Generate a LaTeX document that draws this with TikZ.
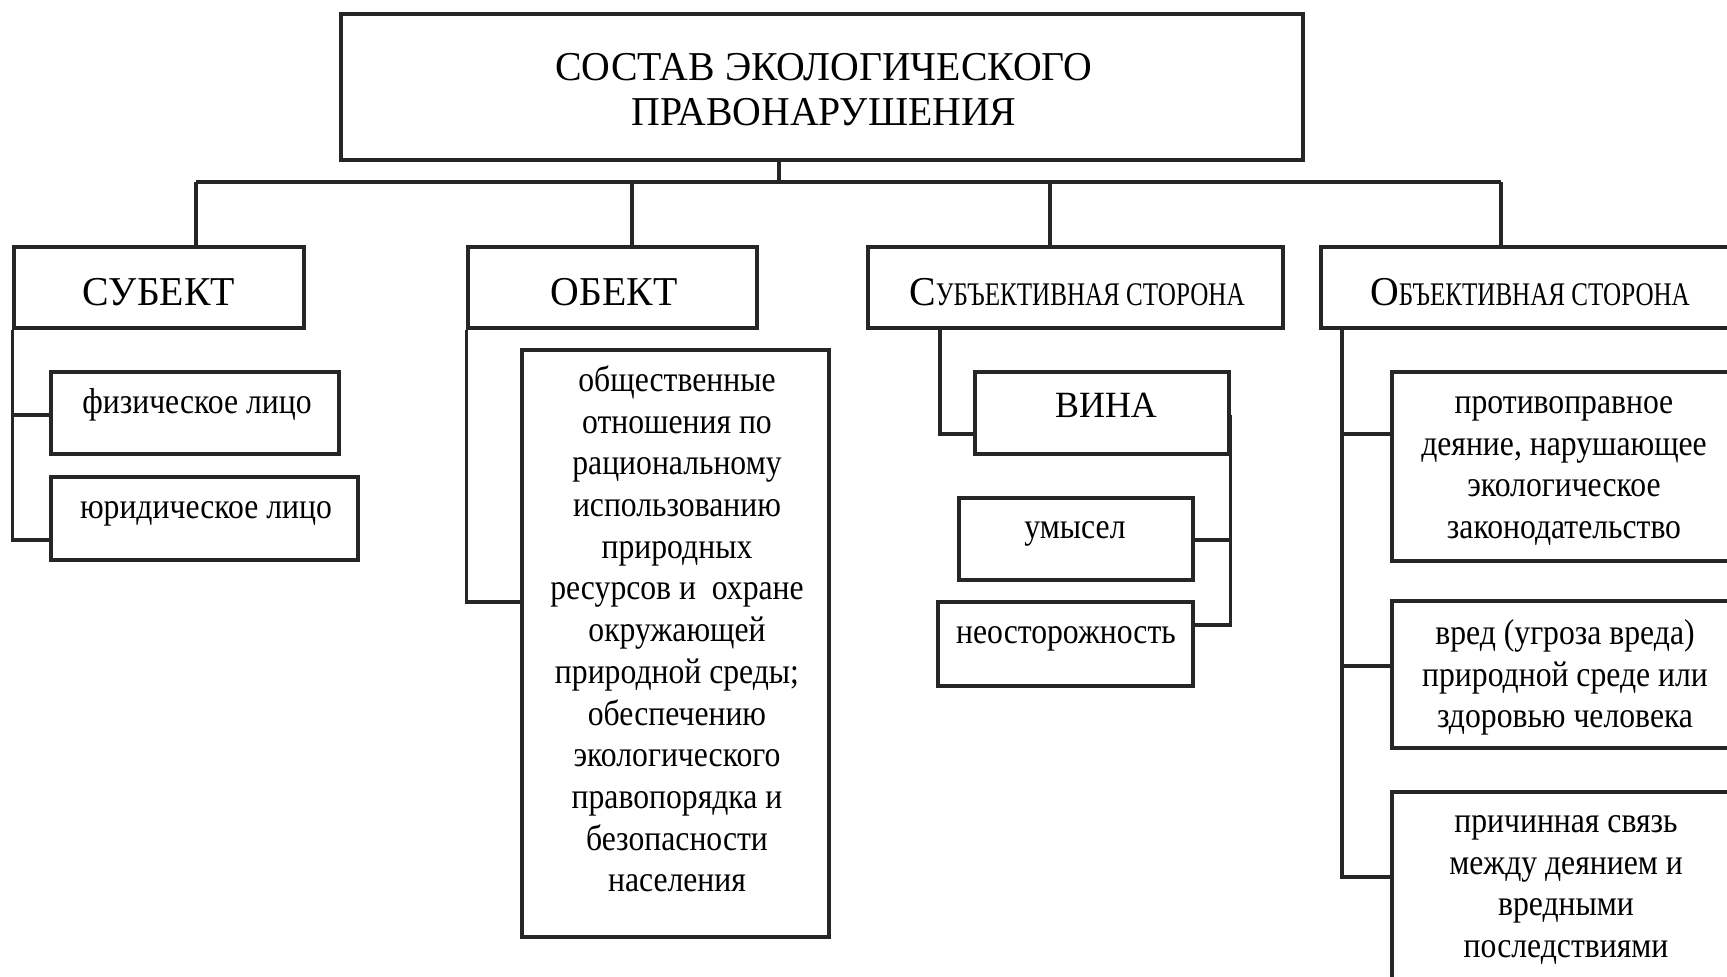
\documentclass[tikz,border=0pt]{standalone}
\usepackage{fontspec}
\setmainfont{Liberation Serif}
\newfontfamily\capsf[FakeStretch=0.97]{Liberation Serif}
\newfontfamily\bodyf[FakeStretch=0.88]{Liberation Serif}
\newfontfamily\scf[FakeStretch=0.76]{Liberation Serif}
\begin{document}
\begin{tikzpicture}[x=1pt,y=-1pt,
  boxst/.style={draw=black!85, line width=3.1pt, rectangle, inner sep=0pt},
  conn/.style={draw=black!85, line width=3.1pt},
  capst/.style={inner sep=0pt, anchor=base, font=\capsf\fontsize{41}{45}\selectfont, text=black},
  bodyst/.style={inner sep=0pt, anchor=base, font=\bodyf\fontsize{36}{41.7}\selectfont, text=black},
  multist/.style={inner sep=0pt, anchor=north, align=center, font=\bodyf\fontsize{36}{41.7}\selectfont, text=black},
  titlest/.style={inner sep=0pt, anchor=north, align=center, font=\capsf\fontsize{41}{45}\selectfont, text=black},
]
\useasboundingbox (0,0) rectangle (1727,977);
\clip (0,0) rectangle (1727,977);

% boxes
\node[boxst, minimum width=962pt, minimum height=146pt] (top) at (822,87) {};
\node[boxst, minimum width=290pt, minimum height=81pt] (subj) at (159,287.5) {};
\node[boxst, minimum width=289pt, minimum height=81pt] (obj) at (612.5,287.5) {};
\node[boxst, minimum width=415pt, minimum height=81pt] (subjside) at (1075.5,287.5) {};
\node[boxst, minimum width=439pt, minimum height=81pt] (objside) at (1540.5,287.5) {};
\node[boxst, minimum width=288pt, minimum height=82pt] (phys) at (195,413) {};
\node[boxst, minimum width=307pt, minimum height=83pt] (jur) at (204.5,518.5) {};
\node[boxst, minimum width=307pt, minimum height=587pt] (big) at (675.5,643.5) {};
\node[boxst, minimum width=254pt, minimum height=82pt] (vina) at (1102,413) {};
\node[boxst, minimum width=234pt, minimum height=82pt] (umysel) at (1076,539) {};
\node[boxst, minimum width=255pt, minimum height=84pt] (neost) at (1065.5,644) {};
\node[boxst, minimum width=348pt, minimum height=189pt] (r1) at (1566,466.5) {};
\node[boxst, minimum width=348pt, minimum height=147pt] (r2) at (1566,674.5) {};
\node[boxst, minimum width=348pt, minimum height=218pt] (r3) at (1566,901) {};

% texts
\node[titlest] (ttitle) at (824,49) {\strut СОСТАВ ЭКОЛОГИЧЕСКОГО\\ПРАВОНАРУШЕНИЯ};
\node[capst] (tsubj) at (159,305.5) {СУБЕКТ};
\node[capst] (tobj) at (614,305.5) {ОБЕКТ};
\node[capst] (tsubjside) at (1077,305.5) {С{\scf\fontsize{33}{40}\selectfont УБЪЕКТИВНАЯ СТОРОНА}};
\node[capst] (tobjside) at (1530,305.5) {О{\scf\fontsize{33}{40}\selectfont БЪЕКТИВНАЯ СТОРОНА}};
\node[bodyst] (tphys) at (197,413) {физическое лицо};
\node[bodyst] (tjur) at (206,518) {юридическое лицо};
\node[capst, font=\capsf\fontsize{37}{42}\selectfont] (tvina) at (1106,417) {ВИНА};
\node[bodyst] (tumysel) at (1075,538) {умысел};
\node[bodyst] (tneost) at (1066,643) {неосторожность};
\node[multist] (tbig) at (677,362) {\strut общественные\\отношения по\\рациональному\\использованию\\природных\\ресурсов и~~охране\\окружающей\\природной среды;\\обеспечению\\экологического\\правопорядка и\\безопасности\\населения};
\node[multist] (tr1) at (1564,384) {\strut противоправное\\деяние, нарушающее\\экологическое\\законодательство};
\node[multist] (tr2) at (1565,615) {\strut вред (угроза вреда)\\природной среде или\\здоровью человека};
\node[multist] (tr3) at (1566,803) {\strut причинная связь\\между деянием и\\вредными\\последствиями};

% helper coordinates
\coordinate (j0) at (779,182);
\coordinate (b1) at (196,182);
\coordinate (b2) at (632,182);
\coordinate (b3) at (1050,182);
\coordinate (b4) at (1501,182);
\coordinate (sA) at (0,415);
\coordinate (sB) at (0,540);
\coordinate (oA) at (0,602);
\coordinate (xS) at (940,0);
\coordinate (vA) at (0,434);
\coordinate (vTop) at (0,415);
\coordinate (vU) at (0,540);
\coordinate (vN) at (0,625);
\coordinate (xR) at (1342,0);
\coordinate (rA) at (0,434);
\coordinate (rB) at (0,666);
\coordinate (rC) at (0,877);

% connectors
\draw[conn] (top.south -| j0) -- (j0);
\draw[conn] (b1) -- (b4);
\draw[conn] (b1) -- (subj.north -| b1);
\draw[conn] (b2) -- (obj.north -| b2);
\draw[conn] (b3) -- (subjside.north -| b3);
\draw[conn] (b4) -- (objside.north -| b4);
\draw[conn] (subj.south west) |- (phys.west |- sA);
\draw[conn] (subj.south west) |- (jur.west |- sB);
\draw[conn] (obj.south west) |- (big.west |- oA);
\draw[conn] (subjside.south -| xS) |- (vina.west |- vA);
\draw[conn] (vina.east |- vTop) |- (neost.east |- vN);
\draw[conn] (umysel.east |- vU) -- (vina.east |- vU);
\draw[conn] (objside.south -| xR) |- (r3.west |- rC);
\draw[conn] (r1.west |- rA) -- (xR |- rA);
\draw[conn] (r2.west |- rB) -- (xR |- rB);
\end{tikzpicture}
\end{document}
